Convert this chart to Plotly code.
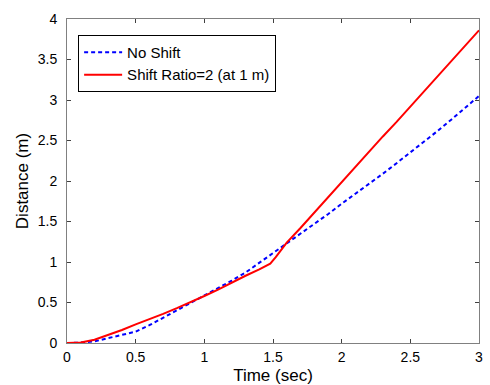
import plotly.graph_objects as go

time_no_shift = [0.0, 0.1, 0.2, 0.3, 0.4, 0.5, 0.6, 0.7, 0.8, 0.9, 1.0, 1.1, 1.2, 1.3, 1.4, 1.5,
                 1.6, 1.7, 1.8, 1.9, 2.0, 2.1, 2.2, 2.3, 2.4, 2.5, 2.6, 2.7, 2.8, 2.9, 3.0]
dist_no_shift = [0.0, 0.005, 0.02, 0.06, 0.10, 0.14, 0.22, 0.31, 0.40, 0.49, 0.58, 0.67, 0.77, 0.87,
                 0.99, 1.10, 1.22, 1.34, 1.47, 1.59, 1.72, 1.84, 1.97, 2.09, 2.22, 2.35, 2.48, 2.62,
                 2.76, 2.90, 3.05]

time_shift = [0.0, 0.1, 0.2, 0.3, 0.4, 0.5, 0.6, 0.7, 0.8, 0.9, 1.0, 1.1, 1.2, 1.3, 1.4, 1.48, 1.52,
              1.6, 1.7, 1.8, 1.9, 2.0, 2.1, 2.2, 2.3, 2.4, 2.5, 2.6, 2.7, 2.8, 2.9, 3.0]
dist_shift = [0.0, 0.005, 0.04, 0.10, 0.16, 0.23, 0.30, 0.36, 0.43, 0.50, 0.58, 0.66, 0.75, 0.83,
              0.91, 0.98, 1.06, 1.24, 1.42, 1.61, 1.80, 1.98, 2.17, 2.36, 2.55, 2.73, 2.92, 3.10,
              3.29, 3.48, 3.67, 3.86]

x_ticks = [0, 0.5, 1, 1.5, 2, 2.5, 3]
x_tick_labels = ["0", "0.5", "1", "1.5", "2", "2.5", "3"]
y_ticks = [0, 0.5, 1, 1.5, 2, 2.5, 3, 3.5, 4]
y_tick_labels = ["0", "0.5", "1", "1.5", "2", "2.5", "3", "3.5", "4"]

family = "Liberation Sans, Arial, sans-serif"
tick_font = dict(family=family, size=14, color="black")
title_font = dict(family=family, size=17, color="black")

fig = go.Figure()
fig.add_trace(go.Scatter(x=time_no_shift, y=dist_no_shift, mode="lines", name="No Shift",
                         line=dict(color="#0000ff", width=2, dash="4px,3px")))
fig.add_trace(go.Scatter(x=time_shift, y=dist_shift, mode="lines", name="Shift Ratio=2 (at 1 m)",
                         line=dict(color="#ff0000", width=2)))

axis_common = dict(showgrid=False, zeroline=False, showline=True, linecolor="#808080", linewidth=1,
                   mirror="ticks", ticks="inside", ticklen=4, tickcolor="#404040",
                   tickfont=tick_font, automargin=False)

fig.update_layout(
    width=490, height=385,
    margin=dict(l=67, r=11, t=19, b=42),
    paper_bgcolor="white", plot_bgcolor="white",
    font=tick_font,
    showlegend=True,
    legend=dict(x=0.027, y=0.951, xanchor="left", yanchor="top",
                bgcolor="white", bordercolor="black", borderwidth=1,
                font=dict(family=family, size=15, color="black"),
                itemwidth=38, tracegroupgap=0),
    xaxis=dict(range=[0, 3], tickvals=x_ticks, ticktext=x_tick_labels, ticklabelstandoff=1,
               title=dict(text="Time (sec)", standoff=5, font=title_font), **axis_common),
    yaxis=dict(range=[0, 4], tickvals=y_ticks, ticktext=y_tick_labels, ticklabelstandoff=6,
               title=dict(text="Distance (m)", standoff=4, font=title_font), **axis_common),
)

fig.write_html("out.html")
